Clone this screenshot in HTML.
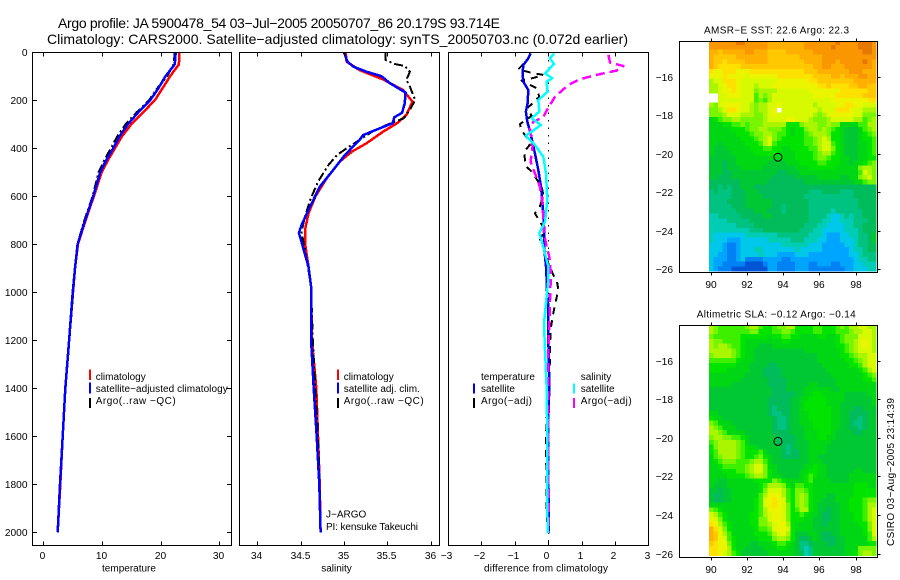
<!DOCTYPE html>
<html lang="en">
<head>
<meta charset="utf-8">
<title>Argo profile</title>
<style>
html,body{margin:0;padding:0;background:#fff;}
body{width:900px;height:580px;overflow:hidden;}
svg{display:block;}
text{font-family:"Liberation Sans",sans-serif;fill:#000;}
</style>
</head>
<body>
<svg id="chart" xmlns="http://www.w3.org/2000/svg" width="900" height="580" viewBox="0 0 900 580">
<defs>
<clipPath id="clip-upper"><rect x="679.5" y="41.5" width="198" height="231"/></clipPath>
<clipPath id="clip-lower"><rect x="679.5" y="325.5" width="198" height="232"/></clipPath>
</defs>
<text x="58" y="28" font-size="14" textLength="442" lengthAdjust="spacing">Argo profile: JA 5900478_54 03−Jul−2005 20050707_86 20.179S 93.714E</text>
<text x="47" y="44" font-size="14" textLength="581" lengthAdjust="spacing">Climatology: CARS2000. Satellite−adjusted climatology: synTS_20050703.nc (0.072d earlier)</text>
<text x="129" y="571.5" font-size="10" text-anchor="middle">temperature</text>
<text x="336.5" y="571.5" font-size="10" text-anchor="middle">salinity</text>
<text x="484" y="571.5" font-size="10" textLength="124" lengthAdjust="spacing">difference from climatology</text>
<text x="704" y="33.5" font-size="10" textLength="145" lengthAdjust="spacing">AMSR−E SST: 22.6 Argo: 22.3</text>
<text x="696.7" y="317.7" font-size="10" textLength="159" lengthAdjust="spacing">Altimetric SLA: −0.12 Argo: −0.14</text>
<text transform="translate(894,546) rotate(-90)" font-size="10" textLength="148" lengthAdjust="spacing">CSIRO 03−Aug−2005 23:14:39</text>
<text x="326" y="517.7" font-size="10">J−ARGO</text>
<text x="326" y="530" font-size="10" textLength="92" lengthAdjust="spacing">PI: kensuke Takeuchi</text>
</svg>
<script>
// ---------- axis tick labels ----------
const depthTicks = [0,200,400,600,800,1000,1200,1400,1600,1800,2000];
const tempTicks = [0,10,20,30];
const salTicks = [34,34.5,35,35.5,36];
const diffTicks = [-3,-2,-1,0,1,2,3];
const lonTicks = [90,92,94,96,98];
const latTicks = [-16,-18,-20,-22,-24,-26];

// ---------- temperature panel ----------
const tempDepths = [0,50,100,150,200,250,300,350,400,450,500,600,700,800,900,1000,1200,1400,1600,1800,2000];
const tempClim = [23.2,23.1,21.6,20.3,19,17,15,13.4,12.2,11,9.95,8.6,7.2,5.9,5.4,5.06,4.4,3.75,3.3,2.9,2.45];
const tempSat = [22.55,22.4,20.8,19.6,18.2,16.2,14.4,13,11.9,10.7,9.7,8.5,7.1,5.85,5.4,5,4.4,3.75,3.3,2.85,2.45];
const tempArgo = [22.4,22.2,21.1,19.4,18,15.9,14,12.6,11.5,10.4,9.4,8.4,7,5.8,5.4,5.1,4.45,3.8,3.3,2.85,2.4];

// ---------- salinity panel ----------
const salClimDepths = [0,39,74,113,157,206,261,296,331,379,414,456,525,601,671,740,796,893,977,1200,1400,1600,1800,2000];
const salClim = [35.02,35.03,35.18,35.45,35.68,35.79,35.72,35.61,35.45,35.26,35.09,34.95,34.8,34.67,34.59,34.55,34.55,34.59,34.62,34.63,34.68,34.7,34.72,34.73];
const salSatDepths = [0,39,60,81,99,129,168,213,252,271,296,317,345,365,428,497,560,657,720,752,817,893,977,1200,1400,1600,1800,2000];
const salSat = [35,35.04,35.11,35.26,35.43,35.53,35.71,35.7,35.67,35.58,35.56,35.41,35.22,35.18,35.01,34.86,34.72,34.59,34.51,34.48,34.53,34.59,34.62,34.62,34.65,34.685,34.715,34.73];
const salArgoDepths = [0,32,49,57,81,115,143,199,240,275,303,327,372,400,428,470,539,615,685,747,824,907,982,1200,1400,1600,1800,2000];
const salArgo = [35.48,35.48,35.59,35.7,35.76,35.72,35.76,35.82,35.76,35.69,35.49,35.34,35.15,35.03,34.92,34.82,34.7,34.61,34.55,34.51,34.55,34.59,34.62,34.64,34.67,34.7,34.72,34.73];

// ---------- difference panel ----------
const diffTSatDepths = [4,25,53,88,122,157,212,247,289,337,379,421,490,560,629,726,810,893,942,976,1060,1185,1393,1532,1740,2004];
const diffTSat = [-0.53,-0.6,-0.75,-0.77,-0.75,-0.6,-0.62,-0.67,-0.63,-0.53,-0.47,-0.4,-0.3,-0.22,-0.17,-0.13,-0.13,-0.07,-0.05,-0.05,0,0,0.03,0,0,0.02];
const diffTArgoDepths = [49,71,81,88,94,106,118,129,150,185,233,265,299,326,358,386,414,474,497,560,594,643,671,706,740,782,838,879,928,962,990,1053,1102,1157,1226,1282,1337,1462,1601,1879,1990];
const diffTArgo = [-0.75,-0.9,-0.63,-0.42,-0.15,-0.42,-0.8,-0.63,-0.35,-0.27,-0.63,-0.5,-0.85,-0.8,-0.63,-0.55,-0.73,-0.67,-0.5,-0.2,-0.15,-0.25,-0.4,-0.25,-0.1,-0.25,-0.07,0,0.15,0.27,0.3,0.2,0.13,0.07,0.05,0.05,0.03,-0.03,-0.07,-0.05,-0.03];
const diffSSatDepths = [4,25,49,88,108,122,164,199,247,275,303,347,386,435,504,615,706,754,810,893,949,1046,1129,1240,1393,1601,1796,2004];
const diffSSat = [0.18,0.05,0.17,-0.1,0.12,-0.05,-0.02,-0.3,-0.27,-0.5,-0.22,-0.67,-0.4,-0.15,-0.07,-0.03,-0.1,-0.27,-0.15,0,0,-0.07,-0.13,-0.1,-0.05,-0.03,-0.03,-0.02];
const diffSArgoDepths = [11,43,57,76,94,112,136,185,247,271,289,317,393,456,504,560,629,699,754,810,851,907,962,1032,1129,1254,1462,1740,2004];
const diffSArgo = [1.8,1.85,2.25,2.05,1.45,0.95,0.6,0.2,-0.07,-0.15,-0.45,-0.55,-0.47,-0.53,-0.4,-0.25,-0.17,-0.15,-0.13,-0.05,0.03,0.07,0.07,0.05,0.03,0,0,0,0.02];

// ---------- map data: colour-scale levels, 37 columns x 48 rows, north to south ----------
const floatLon = 93.714;
const floatLat = -20.179;
const _ = null;
const sstGrid = [
[18,18,18,18,18,18,19,19,18,18,18,18,18,17,17,17,17,17,17,17,17,18,18,18,18,18,18,18,19,18,18,18,18,19,19,19,18],
[18,18,18,18,18,18,18,18,18,18,18,18,18,17,17,17,17,17,17,17,17,18,18,18,18,18,18,19,18,18,18,18,18,19,19,19,18],
[17,17,16,17,17,17,17,17,18,18,17,17,17,16,16,16,16,17,17,17,17,17,17,18,18,18,18,18,18,18,18,18,18,18,19,19,18],
[17,16,16,16,16,16,17,17,17,17,17,17,17,16,16,16,16,16,16,16,17,17,17,17,17,18,18,18,18,18,18,18,18,18,18,18,18],
[17,16,16,15,16,16,16,16,17,17,17,17,17,16,16,16,16,16,16,16,16,17,17,17,17,18,18,18,17,18,18,18,18,18,19,18,17],
[17,16,15,15,15,15,15,16,16,16,16,16,16,16,16,16,16,16,16,16,16,16,16,17,17,18,18,17,17,17,18,18,18,18,18,18,17],
[15,14,14,15,15,15,14,14,14,15,15,15,15,15,15,15,15,15,15,15,15,16,16,16,17,17,17,17,17,17,17,18,18,18,17,17,17],
[14,14,14,15,14,14,14,14,13,14,14,14,14,14,14,15,15,15,15,15,15,15,15,16,16,16,16,17,17,16,17,17,17,18,18,17,17],
[12,13,13,15,15,15,14,13,13,13,13,13,13,13,13,14,14,14,14,14,14,14,15,15,16,16,16,16,16,16,16,16,17,17,17,17,17],
[12,12,13,14,15,15,14,13,13,13,12,13,13,13,14,14,14,14,14,14,14,14,14,14,15,15,16,15,15,15,15,16,16,17,17,16,16],
[12,12,13,14,14,15,14,13,13,13,11,12,12,12,12,13,13,13,13,13,13,13,14,14,14,14,14,14,14,15,15,15,15,15,15,16,16],
[_,_,13,13,14,14,14,13,13,13,10,12,11,12,13,13,13,13,13,13,13,13,13,14,14,14,14,14,15,15,15,15,15,15,16,16,16],
[_,_,13,13,13,13,13,13,13,13,10,11,10,12,13,13,13,13,13,13,13,13,13,13,13,13,13,14,14,14,14,14,14,14,14,15,15],
[12,11,13,14,14,14,14,13,13,12,11,12,12,13,13,14,13,13,13,13,13,13,13,12,13,13,13,13,14,14,15,15,14,14,13,13,13],
[11,11,12,13,15,15,14,13,13,12,11,12,12,13,14,_,13,13,13,13,13,13,13,13,12,13,13,13,15,15,15,14,13,13,12,12,12],
[11,11,11,12,13,13,13,12,12,12,11,11,12,13,14,13,13,13,13,13,13,13,13,12,11,12,13,14,14,14,14,14,13,13,11,11,11],
[8,9,10,11,11,12,12,11,11,11,11,11,12,13,13,13,13,14,14,13,13,13,12,11,11,11,12,13,13,13,13,13,12,12,10,11,12],
[8,8,8,9,9,10,10,11,10,11,11,11,12,12,12,12,12,9,9,9,11,12,12,12,11,11,12,11,11,8,8,8,8,10,10,12,12],
[8,8,8,8,8,9,9,9,10,11,11,12,12,11,11,11,10,9,8,9,9,11,12,12,11,12,11,10,9,8,7,7,7,8,10,11,12],
[8,8,8,8,8,8,9,9,9,10,11,11,12,12,11,10,10,9,8,9,9,10,11,12,12,12,11,9,9,8,7,7,7,8,9,10,11],
[8,8,8,8,8,8,8,9,9,9,10,11,12,13,11,10,9,9,9,9,9,10,10,11,12,13,12,9,9,8,7,7,7,8,9,9,10],
[8,8,7,8,8,8,8,8,9,9,9,10,12,13,10,9,9,9,9,9,9,10,10,11,12,13,13,10,9,8,7,7,7,8,8,9,10],
[8,7,7,7,8,8,8,8,8,9,9,9,10,10,9,9,8,8,9,9,9,9,10,10,12,13,13,11,9,8,7,7,7,8,8,9,10],
[8,7,7,7,7,8,8,8,8,8,9,9,9,9,9,8,8,8,8,9,9,9,9,10,11,12,12,10,9,8,7,7,7,8,8,9,10],
[7,7,7,7,7,7,8,8,8,8,8,8,8,8,8,8,8,8,8,9,9,9,9,10,11,11,10,9,9,8,8,7,7,8,8,9,9],
[7,7,7,6,7,7,8,8,8,8,8,8,8,7,7,7,7,8,8,8,9,9,9,9,10,10,9,9,9,8,8,7,8,8,9,10,11],
[7,7,7,6,7,7,7,8,8,8,8,8,7,7,7,7,7,7,7,8,8,8,9,9,9,9,9,9,8,8,8,8,8,11,12,12,11],
[7,7,7,6,6,7,7,7,7,7,7,7,7,7,7,6,6,7,7,7,8,8,8,8,8,8,8,8,8,8,8,8,8,10,13,12,11],
[7,7,6,6,6,7,7,7,7,7,7,7,7,7,6,6,6,6,6,7,7,7,7,7,8,8,8,8,8,7,7,8,8,11,12,13,11],
[6,6,6,6,6,6,6,7,7,7,7,7,7,6,6,6,6,6,6,6,6,7,7,7,7,7,7,7,7,7,7,7,8,8,10,11,11],
[6,6,5,6,5,6,6,7,7,7,6,6,6,6,6,6,6,6,6,6,6,6,6,6,6,6,6,6,6,6,6,6,6,6,6,6,6],
[5,6,5,5,5,6,6,6,7,7,7,6,6,6,6,6,6,6,6,6,6,6,5,5,5,6,6,6,6,5,5,5,6,6,6,6,6],
[5,5,5,5,5,6,6,6,7,7,7,7,6,6,6,6,6,6,6,6,6,5,5,5,5,5,5,5,5,5,5,5,6,6,6,6,6],
[5,5,5,5,6,6,6,6,7,7,7,7,7,7,6,6,6,6,6,6,6,6,5,5,5,5,5,5,5,5,5,5,5,6,6,6,6],
[5,5,5,5,5,6,6,6,7,7,7,7,7,7,6,6,5,6,6,6,6,6,5,5,5,5,5,5,5,5,5,5,5,6,6,6,6],
[5,5,5,5,5,5,6,6,6,6,7,7,7,6,6,6,5,6,6,6,6,6,5,5,5,5,5,4,5,5,5,5,5,5,6,6,6],
[4,4,5,5,5,5,5,6,6,6,6,6,7,7,6,6,6,6,6,6,6,6,5,5,5,5,4,3,3,4,5,4,5,5,6,6,6],
[4,4,4,4,5,5,5,5,5,6,6,6,6,6,6,6,6,6,6,6,6,6,5,5,5,4,4,3,3,4,4,4,5,5,5,6,6],
[4,4,4,4,4,4,5,5,5,5,6,6,6,6,6,6,6,6,6,6,6,5,5,5,4,4,3,3,3,3,4,4,5,5,6,6,6],
[4,4,4,4,4,4,4,4,4,5,5,5,6,6,6,6,6,6,6,6,5,5,5,4,4,3,3,3,3,3,4,4,4,5,6,6,6],
[4,3,3,3,3,3,3,3,4,4,4,4,4,4,4,5,5,5,5,5,5,5,4,4,4,3,2,2,2,3,3,4,4,5,5,6,7],
[4,3,3,3,2,2,2,3,3,3,3,3,3,4,4,4,4,4,5,5,5,4,4,4,3,3,2,2,2,3,3,3,4,5,5,6,7],
[3,3,3,2,1,1,2,3,3,3,3,3,3,3,3,3,4,4,4,4,4,4,3,3,3,2,2,2,2,2,3,3,4,5,5,6,6],
[3,3,3,2,1,1,2,3,3,3,4,4,3,3,3,3,3,3,3,4,3,3,3,3,3,2,2,2,2,2,2,3,4,4,5,6,6],
[3,3,2,2,1,1,2,3,3,3,3,4,3,3,3,2,2,2,2,3,3,3,2,2,2,2,2,2,2,2,2,3,3,4,5,5,5],
[3,2,2,2,1,1,2,3,1,1,1,1,2,2,2,2,1,1,2,2,2,2,2,2,2,2,2,2,2,2,2,2,3,4,4,5,5],
[3,2,2,1,1,1,1,1,0,0,0,0,1,2,2,1,1,1,1,2,2,2,1,1,2,2,2,1,1,2,2,2,3,3,4,4,4],
[3,2,1,1,1,0,0,0,0,0,0,0,0,2,2,1,1,1,1,2,2,2,1,1,1,1,1,1,1,1,2,2,3,3,3,4,4]
];
const slaGrid = [
[12,11,10,10,10,10,10,10,11,12,12,10,9,9,10,11,11,12,12,9,9,9,9,10,10,9,9,9,10,11,10,12,12,13,13,12,12],
[12,11,10,10,10,10,10,10,10,11,11,9,9,9,10,10,11,11,10,9,9,9,9,10,10,9,9,9,10,10,10,11,12,12,13,13,12],
[11,10,10,10,10,10,10,9,9,9,9,9,9,8,9,9,10,10,9,9,8,8,8,8,9,9,8,8,9,10,11,11,11,13,13,13,12],
[12,11,11,10,10,10,10,9,8,8,8,8,8,8,8,8,9,9,8,8,8,8,8,8,8,8,8,8,9,10,11,11,12,13,14,13,12],
[12,11,12,12,11,10,10,9,8,8,8,7,7,7,8,8,8,8,8,8,8,8,8,8,8,8,8,8,9,9,10,11,12,13,14,13,12],
[12,12,12,12,12,11,10,9,8,8,7,7,7,7,7,7,7,7,7,7,7,8,8,8,8,8,8,8,8,9,10,11,12,13,13,13,12],
[11,12,12,12,12,11,10,9,8,8,7,7,7,7,7,7,7,7,7,7,7,7,7,7,8,8,8,8,8,9,9,10,11,12,12,13,13],
[10,10,10,10,10,10,9,8,8,8,7,7,7,7,7,7,7,7,7,7,7,7,7,7,8,8,8,8,8,8,9,9,10,11,12,13,13],
[9,9,9,9,9,9,8,8,8,7,7,7,7,6,6,7,7,7,7,7,7,7,7,7,7,8,8,8,8,8,8,9,9,10,12,13,13],
[9,9,9,9,8,8,8,8,8,7,7,7,6,6,6,6,7,7,7,7,7,7,7,7,7,7,8,8,8,8,8,8,8,9,10,12,13],
[8,8,8,8,8,8,8,8,7,7,7,7,6,6,6,6,7,7,7,7,7,7,7,7,7,7,7,8,8,8,8,8,8,8,9,10,11],
[8,8,8,8,8,8,8,7,7,7,7,7,7,6,6,6,6,7,7,7,7,7,7,7,7,7,7,7,8,8,8,8,8,8,9,9,10],
[8,8,8,8,8,7,7,7,7,7,7,7,7,6,6,6,6,7,7,7,7,7,8,8,7,7,7,7,8,8,8,8,8,8,8,8,8],
[7,7,7,7,7,7,7,7,7,7,7,7,7,7,6,6,6,7,7,7,7,8,8,8,8,8,8,7,7,8,8,8,8,8,8,8,8],
[7,7,7,7,7,7,7,7,7,7,7,7,7,7,6,6,6,6,6,7,7,8,8,9,9,8,8,8,8,8,7,7,7,7,7,8,8],
[7,7,7,7,7,7,7,7,7,7,7,7,7,6,6,6,6,6,7,7,8,8,9,9,9,9,8,8,8,8,7,7,7,7,7,7,8],
[7,7,7,7,7,7,7,7,7,7,7,7,7,6,6,6,6,6,7,7,8,9,9,9,9,9,8,8,8,7,7,7,7,7,7,7,8],
[7,7,7,7,7,7,7,7,7,7,7,7,7,6,5,6,6,6,7,7,8,9,9,9,9,9,9,8,8,7,7,7,6,6,7,7,7],
[8,8,7,7,7,7,7,7,7,7,7,7,7,6,5,5,6,6,7,7,8,8,9,9,9,9,9,8,8,7,7,6,6,6,6,7,7],
[9,8,8,7,7,7,7,7,7,7,7,7,7,7,6,5,5,6,7,7,8,8,9,9,9,9,9,8,8,7,7,6,6,5,6,7,7],
[11,10,8,8,8,7,7,7,7,7,7,7,7,7,6,5,5,6,7,7,8,8,8,9,9,9,9,8,8,7,7,6,5,5,6,7,7],
[12,11,10,8,8,8,7,7,7,7,7,7,7,7,6,5,5,6,7,7,7,8,8,9,9,9,9,8,8,7,7,6,6,5,6,7,7],
[12,12,11,10,8,8,8,8,7,7,7,7,7,7,6,6,6,6,7,7,7,8,8,8,9,9,9,8,7,7,7,7,6,6,7,7,7],
[11,12,12,11,11,10,10,9,8,7,7,7,7,7,7,6,6,6,6,7,7,8,8,8,9,9,8,8,7,7,7,7,7,7,7,7,7],
[10,11,12,12,12,12,11,10,8,7,7,7,7,7,7,6,6,6,6,7,7,7,8,8,8,8,8,7,7,7,7,7,7,7,7,7,7],
[9,11,12,12,12,12,11,10,9,8,8,7,7,7,7,7,6,5,6,7,7,7,8,8,8,8,7,7,7,7,7,7,7,7,7,7,7],
[9,10,12,12,12,12,11,10,9,9,9,10,8,7,7,7,6,5,6,6,7,7,8,8,8,8,7,7,7,7,7,7,7,7,7,7,7],
[8,10,11,12,12,12,11,10,9,9,10,11,9,8,7,7,6,6,6,6,7,7,8,8,7,7,7,7,7,7,7,7,7,7,7,7,7],
[8,9,10,11,11,11,10,10,10,11,12,12,10,8,7,7,7,7,7,7,7,7,8,8,8,7,7,7,7,7,7,7,7,7,7,7,7],
[8,8,9,10,10,10,10,10,11,12,13,13,11,8,8,7,7,7,7,7,7,8,8,9,8,8,7,7,7,7,7,7,7,7,7,7,7],
[8,8,8,9,9,9,10,10,11,12,13,13,11,9,8,7,7,7,7,7,8,8,9,9,8,8,7,7,7,7,7,7,8,8,7,7,7],
[8,8,8,8,9,9,9,9,10,11,12,12,11,9,8,8,7,7,7,7,8,9,10,9,8,8,7,7,7,7,7,8,8,8,8,8,8],
[8,8,7,7,8,8,8,8,8,8,9,9,9,9,11,10,9,8,8,8,8,9,10,8,8,8,8,7,7,7,7,8,8,8,8,8,8],
[8,7,7,7,8,8,8,8,8,8,8,9,10,12,12,12,11,9,8,10,10,9,9,8,8,8,8,8,8,8,8,8,9,9,9,8,8],
[7,7,6,7,7,8,8,8,8,8,8,9,11,13,13,13,12,10,9,11,11,10,9,8,8,8,8,8,8,8,8,8,9,9,9,9,9],
[7,6,6,7,7,8,8,8,8,8,8,10,12,14,14,14,12,10,9,11,12,11,9,8,8,8,7,7,8,8,8,8,9,9,9,9,9],
[7,6,6,7,7,8,8,8,8,8,9,10,13,14,15,14,13,10,9,11,12,11,9,8,8,7,7,7,8,8,8,9,9,9,10,11,11],
[8,8,8,8,8,8,8,8,8,8,9,10,13,14,15,14,13,11,9,11,12,11,9,8,7,7,7,7,7,8,8,9,9,9,10,12,12],
[11,10,9,8,8,8,8,8,8,8,9,10,12,14,14,14,13,11,9,10,12,12,9,8,7,7,6,7,7,8,8,9,9,9,10,12,13],
[13,12,10,9,8,8,8,8,8,9,9,10,12,13,14,14,13,11,9,9,10,9,8,8,7,6,6,7,7,8,8,8,9,9,10,12,13],
[14,13,11,9,8,8,8,8,8,9,9,11,11,13,14,14,13,11,9,9,9,8,8,7,7,6,6,7,7,8,8,8,9,9,10,12,13],
[15,14,12,10,9,8,8,8,8,9,9,11,11,12,13,14,14,12,9,8,8,8,8,7,7,6,7,7,7,8,8,8,8,9,9,11,13],
[17,15,13,11,9,8,8,8,8,8,9,10,10,11,13,14,14,13,9,8,8,8,8,7,7,7,7,7,7,8,8,8,8,8,9,11,13],
[17,16,14,12,10,8,8,8,8,8,9,9,9,10,12,13,14,12,9,7,7,7,8,8,7,6,6,7,7,8,8,8,8,8,9,10,13],
[17,16,14,13,10,9,8,8,8,8,8,9,9,9,11,12,12,11,9,7,6,6,7,8,7,6,6,6,7,7,8,8,8,8,8,10,12],
[16,15,14,14,11,9,8,8,8,7,7,8,8,8,9,10,10,9,8,7,5,5,6,7,7,7,6,6,7,7,8,8,8,8,8,9,9],
[15,15,14,14,12,9,8,8,7,7,7,7,8,8,8,9,9,8,8,7,5,4,5,7,7,7,7,7,7,7,8,8,8,11,11,11,11],
[15,15,14,13,12,10,9,7,7,7,7,7,7,8,8,8,8,8,8,7,6,4,5,7,7,7,7,7,7,7,8,8,9,11,12,12,11]
];

// ---------- axis functions ----------
const NS = 'http://www.w3.org/2000/svg';
const svg = document.getElementById('chart');
function depthY(d){ return 52.3 + d * 0.24; }
function tempX(t){ return 43.3 + t * 5.87; }
function salX(s){ return 257.3 + (s - 34) * 86.7; }
function diffX(v){ return 548.3 + v * 33.4; }
function lonX(l){ return 710.7 + (l - 90) * 18.1; }
function latYUpper(l){ return 76.7 + (-16 - l) * 19.26; }
function latYLower(l){ return 360.9 + (-16 - l) * 19.26; }
function mk(tag, attrs, parent){
  const el = document.createElementNS(NS, tag);
  for (const k in attrs) el.setAttribute(k, attrs[k]);
  (parent || svg).appendChild(el);
  return el;
}
function fmtMinus(v){ return String(v).replace('-', '\u2212'); }

// ---------- profile panels ----------
function drawFrame(name, x0, y0, x1, y1){
  const r = mk('rect', {x:x0, y:y0, width:x1-x0, height:y1-y0, fill:'none', stroke:'#000', 'stroke-width':1, 'shape-rendering':'crispEdges'});
  
  
}
function drawTick(name, x1, y1, x2, y2){
  const t = mk('line', {x1:x1, y1:y1, x2:x2, y2:y2, stroke:'#000', 'stroke-width':1, 'shape-rendering':'crispEdges'});
  
  
}
function drawLabel(name, x, y, str, anchor){
  const t = mk('text', {x:x, y:y, 'font-size':10.2, 'text-anchor':anchor});
  t.textContent = str;
  
  
}
function drawProfile(name, depths, vals, xf, color, width, dash){
  let d = '';
  for (let i = 0; i < vals.length; i++) {
    d += (i ? 'L' : 'M') + xf(vals[i]).toFixed(1) + ' ' + depthY(depths[i]).toFixed(1);
  }
  const attrs = {d:d, fill:'none', stroke:color, 'stroke-width':width, 'shape-rendering':'crispEdges', 'stroke-linejoin':'round'};
  if (dash) attrs['stroke-dasharray'] = dash;
  const p = mk('path', attrs);
  
  
}
function drawLegendEntry(name, lineX, textX, y0, y1, base, color, str, len){
  if (color) {
    const l = mk('line', {x1:lineX, y1:y0, x2:lineX, y2:y1, stroke:color, 'stroke-width':2, 'shape-rendering':'crispEdges'});
    
    
  }
  const attrs = {x:textX, y:base, 'font-size':10};
  if (len) { attrs.textLength = len; attrs.lengthAdjust = 'spacing'; }
  const t = mk('text', attrs);
  t.textContent = str;
  
  
}

const panelTop = 52.5, panelBottom = 545.5;

// temperature panel marks
drawProfile('temperature-climatology-line', tempDepths, tempClim, tempX, '#ff0000', 2.5);
drawProfile('temperature-argo-line', tempDepths, tempArgo, tempX, '#000000', 2, '9,3,2,3');
drawProfile('temperature-satellite-line', tempDepths, tempSat, tempX, '#0000ff', 2.5);
drawFrame('temperature-panel-frame', 32.5, panelTop, 231.5, panelBottom);
depthTicks.forEach(function(d){
  const y = Math.round(depthY(d)) + 0.5;
  drawTick('depth-tick-left', 32.5, y, 37, y);
  drawTick('depth-tick-right', 227, y, 231.5, y);
  drawLabel('depth-tick-label', 27.5, y + 3.5, String(d), 'end');
});
tempTicks.forEach(function(v){
  const x = Math.round(tempX(v)) + 0.5;
  drawTick('temperature-tick-top', x, panelTop, x, panelTop + 4);
  drawTick('temperature-tick-bottom', x, panelBottom - 4, x, panelBottom);
  drawLabel('temperature-tick-label', x - 1, 559, String(v), 'middle');
});

// salinity panel marks
drawProfile('salinity-climatology-line', salClimDepths, salClim, salX, '#ff0000', 2.5);
drawProfile('salinity-argo-line', salArgoDepths, salArgo, salX, '#000000', 2, '9,3,2,3');
drawProfile('salinity-satellite-line', salSatDepths, salSat, salX, '#0000ff', 2.5);
drawFrame('salinity-panel-frame', 239.5, panelTop, 439.5, panelBottom);
salTicks.forEach(function(v){
  const x = Math.round(salX(v)) + 0.5;
  drawTick('salinity-tick-top', x, panelTop, x, panelTop + 4);
  drawTick('salinity-tick-bottom', x, panelBottom - 4, x, panelBottom);
  drawLabel('salinity-tick-label', x - 1, 559, String(v), 'middle');
});

// difference panel marks
const zeroLine = mk('line', {x1:diffX(0), y1:panelTop, x2:diffX(0), y2:panelBottom, stroke:'#000', 'stroke-width':1, 'stroke-dasharray':'1.5,6', 'shape-rendering':'crispEdges'});


drawProfile('difference-temperature-argo-line', diffTArgoDepths, diffTArgo, diffX, '#000000', 2, '7,6');
drawProfile('difference-temperature-satellite-line', diffTSatDepths, diffTSat, diffX, '#0000e6', 2.5);
drawProfile('difference-salinity-argo-line', diffSArgoDepths, diffSArgo, diffX, '#ff00ff', 2.5, '9,5');
drawProfile('difference-salinity-satellite-line', diffSSatDepths, diffSSat, diffX, '#00ffff', 2.5);
drawFrame('difference-panel-frame', 448.5, panelTop, 648.5, panelBottom);
diffTicks.forEach(function(v){
  const x = Math.round(diffX(v)) + 0.5;
  if (Math.abs(v) < 3) {
    drawTick('difference-tick-top', x, panelTop, x, panelTop + 4);
    drawTick('difference-tick-bottom', x, panelBottom - 4, x, panelBottom);
  }
  drawLabel('difference-tick-label', x - 2, 559, fmtMinus(v), 'middle');
});

// legends
drawLegendEntry('legend-temperature-climatology', 90, 95.7, 369.5, 380, 380, '#ff0000', 'climatology');
drawLegendEntry('legend-temperature-satellite', 90, 95.7, 382.5, 393.5, 392, '#0000ff', 'satellite\u2212adjusted climatology', 132);
drawLegendEntry('legend-temperature-argo', 90, 95.7, 398, 408, 404, '#000000', 'Argo(..raw \u2212QC)', 80);
drawLegendEntry('legend-salinity-climatology', 338, 343.7, 369.5, 380, 380, '#ff0000', 'climatology');
drawLegendEntry('legend-salinity-satellite', 338, 343.7, 382.5, 393.5, 392, '#0000ff', 'satellite adj. clim.');
drawLegendEntry('legend-salinity-argo', 338, 343.7, 398, 408, 404, '#000000', 'Argo(..raw \u2212QC)', 80);
drawLegendEntry('legend-difference-temperature-heading', 0, 481, 0, 0, 380, null, 'temperature');
drawLegendEntry('legend-difference-temperature-satellite', 474, 481, 383.5, 393.5, 392, '#0000e6', 'satellite');
drawLegendEntry('legend-difference-temperature-argo', 474, 481, 398, 408, 404, '#000000', 'Argo(\u2212adj)', 51);
drawLegendEntry('legend-difference-salinity-heading', 0, 580.7, 0, 0, 380, null, 'salinity');
drawLegendEntry('legend-difference-salinity-satellite', 574, 580.7, 383.5, 393.5, 392, '#00ffff', 'satellite');
drawLegendEntry('legend-difference-salinity-argo', 574, 580.7, 398, 408, 404, '#ff00ff', 'Argo(\u2212adj)', 51);

// ---------- maps ----------
const scaleStops = [
  [0,85,215],[0,130,245],[0,165,255],[0,200,235],[0,205,180],
  [0,195,130],[0,188,90],[0,200,50],[0,215,20],[0,228,0],
  [60,240,0],[120,245,0],[170,245,0],[215,250,0],[235,245,0],
  [255,225,0],[255,200,0],[255,175,0],[250,150,0],[230,120,0]
];
function levelColor(v){
  const c = Math.max(0, Math.min(scaleStops.length - 1, Math.round(v)));
  const s = scaleStops[c];
  return 'rgb(' + s[0] + ',' + s[1] + ',' + s[2] + ')';
}
const cellLon = 0.25, cellLat = 0.25, gridLon0 = 89.9, gridLat0 = -14.1;
function drawMap(prefix, grid, latY, clipId, top, bottom){
  const g = mk('g', {'clip-path':'url(#' + clipId + ')', 'shape-rendering':'crispEdges'});
  
  
  grid.forEach(function(row, r){
    row.forEach(function(v, c){
      if (v === null) return;
      const x0 = lonX(gridLon0 + c * cellLon), x1 = lonX(gridLon0 + (c + 1) * cellLon);
      const y0 = latY(gridLat0 - r * cellLat), y1 = latY(gridLat0 - (r + 1) * cellLat);
      const cell = mk('rect', {x:x0.toFixed(2), y:y0.toFixed(2), width:(x1 - x0 + 0.4).toFixed(2), height:(y1 - y0 + 0.4).toFixed(2), fill:levelColor(v)}, g);
      
      
    });
  });
  const marker = mk('circle', {cx:lonX(floatLon), cy:latY(floatLat), r:4, fill:'none', stroke:'#000', 'stroke-width':1});
  
  
  drawFrame(prefix + '-map-frame', 679.5, top, 877.5, bottom);
  lonTicks.forEach(function(l){
    const x = Math.round(lonX(l)) + 0.5;
    drawTick(prefix + '-map-lon-tick-top', x, top - 3, x, top);
    drawTick(prefix + '-map-lon-tick-bottom', x, bottom, x, bottom + 3);
    drawLabel(prefix + '-map-lon-label', x - 0.5, bottom + 15.5, String(l), 'middle');
  });
  latTicks.forEach(function(l){
    const y = Math.round(latY(l)) + 0.5;
    drawTick(prefix + '-map-lat-tick', 877.5, y, 880.5, y);
    drawLabel(prefix + '-map-lat-label', 673, y + 3.5, fmtMinus(l), 'end');
  });
}
drawMap('sst', sstGrid, latYUpper, 'clip-upper', 41.5, 272.5);
drawMap('sla', slaGrid, latYLower, 'clip-lower', 325.5, 557.5);
</script>
</body>
</html>
